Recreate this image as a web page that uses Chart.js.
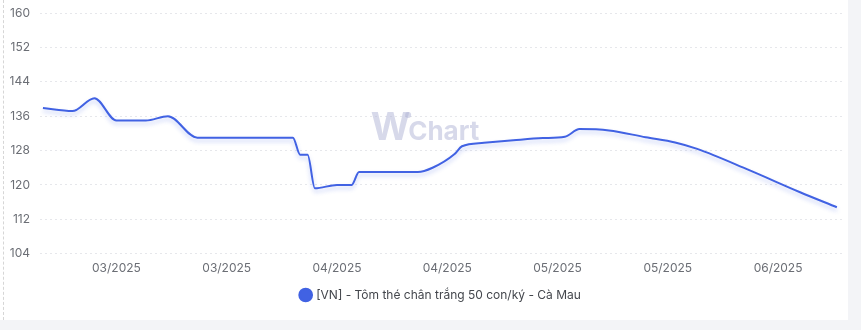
<!DOCTYPE html>
<html>
<head>
<meta charset="utf-8">
<script src="https://cdn.jsdelivr.net/npm/chart.js@4.4.1/dist/chart.umd.min.js"></script>
<style>
  html, body { margin: 0; padding: 0; background: #f3f4f7; }
  body { width: 861px; height: 330px; overflow: hidden; position: relative; }
  .card {
    position: absolute; left: 0; top: 0; width: 848px; height: 320px;
    background: #fff; box-sizing: border-box; overflow: hidden;
  }
  .card::before {
    content: ''; position: absolute; left: 3px; top: 0; bottom: 0;
    border-left: 1px dashed #d6d6d6;
  }
  .wrap { position: absolute; left: 5px; top: -4px; width: 843px; height: 324px; }
</style>
</head>
<body>
<div class="card"><div class="wrap"><canvas id="priceChart"></canvas></div></div>
<script>
// day offsets from the first observation, and price (nghìn đồng/kg)
const days   = [0, 4, 7, 10, 14, 17, 21, 34, 35, 36, 37, 40, 42, 43, 51, 53, 56, 57, 60, 64, 68, 71, 73, 77, 82, 86, 89, 96, 103, 108];
const prices = [137.9, 137.2, 140.2, 135, 135, 136, 131, 131, 127, 127, 119.2, 120, 120, 123, 123, 124, 127.2, 129, 129.8, 130.4, 130.9, 131.2, 133, 132.7, 131.1, 129.9, 128.4, 123.5, 118.3, 114.8];

const tickDays   = [10, 25, 40, 55, 70, 85, 100];
const tickLabels = ['03/2025', '03/2025', '04/2025', '04/2025', '05/2025', '05/2025', '06/2025'];
const yTicks     = [104, 112, 120, 128, 136, 144, 152, 160];

const seriesName = '[VN] - Tôm thé chân trắng 50 con/ký - Cà Mau';
const lineColor  = '#4162e3';
const gridColor  = '#e6e7eb';
const tickColor  = '#6b6e75';

const watermark = {
  id: 'watermark',
  beforeDatasetsDraw(chart) {
    const { ctx, chartArea } = chart;
    const cx = (chartArea.left + chartArea.right) / 2 - 15;
    const base = 144;
    ctx.save();
    ctx.fillStyle = 'rgba(176,180,214,0.5)';
    ctx.textBaseline = 'alphabetic';
    ctx.font = 'bold 38px Inter';
    const wW = ctx.measureText('W').width;
    ctx.font = 'bold 26px Inter';
    const cW = ctx.measureText('Chart').width;
    const x0 = cx - (wW + cW) / 2;
    ctx.font = 'bold 38px Inter';
    ctx.fillText('W', x0, base);
    ctx.beginPath();
    ctx.arc(x0 + wW - 2, base - 25, 3, 0, Math.PI * 2);
    ctx.fill();
    ctx.font = 'bold 26px Inter';
    ctx.fillText('Chart', x0 + wW - 2, base);
    ctx.restore();
  }
};

const lineShadow = {
  id: 'lineShadow',
  beforeDatasetDraw(chart) {
    const ctx = chart.ctx;
    ctx.save();
    ctx.shadowColor = 'rgba(65,98,227,0.3)';
    ctx.shadowBlur = 4;
    ctx.shadowOffsetY = 3;
  },
  afterDatasetDraw(chart) {
    chart.ctx.restore();
  }
};

new Chart(document.getElementById('priceChart'), {
  type: 'line',
  data: {
    datasets: [{
      label: seriesName,
      data: days.map((d, i) => ({ x: d, y: prices[i] })),
      borderColor: lineColor,
      backgroundColor: lineColor,
      borderWidth: 2,
      pointRadius: 0,
      cubicInterpolationMode: 'monotone',
      fill: false
    }]
  },
  plugins: [watermark, lineShadow],
  options: {
    responsive: true,
    maintainAspectRatio: false,
    animation: false,
    layout: { padding: { top: 1, right: 6, bottom: 9, left: 0 } },
    plugins: {
      legend: {
        position: 'bottom',
        fullSize: false,
        labels: {
          usePointStyle: true,
          pointStyle: 'circle',
          boxWidth: 9,
          boxHeight: 9,
          padding: 13,
          color: '#44474d',
          font: { family: 'Inter', size: 12 }
        }
      },
      tooltip: { enabled: false }
    },
    scales: {
      x: {
        type: 'linear',
        min: -0.4,
        max: 108.7,
        grid: { display: false },
        border: { display: false },
        afterBuildTicks: axis => { axis.ticks = tickDays.map(v => ({ value: v })); },
        ticks: {
          autoSkip: false,
          maxRotation: 0,
          padding: 0,
          color: tickColor,
          font: { family: 'Inter', size: 12 },
          callback: v => tickLabels[tickDays.indexOf(v)]
        }
      },
      y: {
        min: 104,
        max: 160,
        afterBuildTicks: axis => { axis.ticks = yTicks.map(v => ({ value: v })); },
        afterFit: axis => { axis.width = 35; },
        grid: {
          color: gridColor,
          drawTicks: false
        },
        border: { display: false, dash: [2, 3] },
        ticks: {
          padding: 10,
          color: tickColor,
          font: { family: 'Inter', size: 12 }
        }
      }
    }
  }
});
</script>
</body>
</html>
